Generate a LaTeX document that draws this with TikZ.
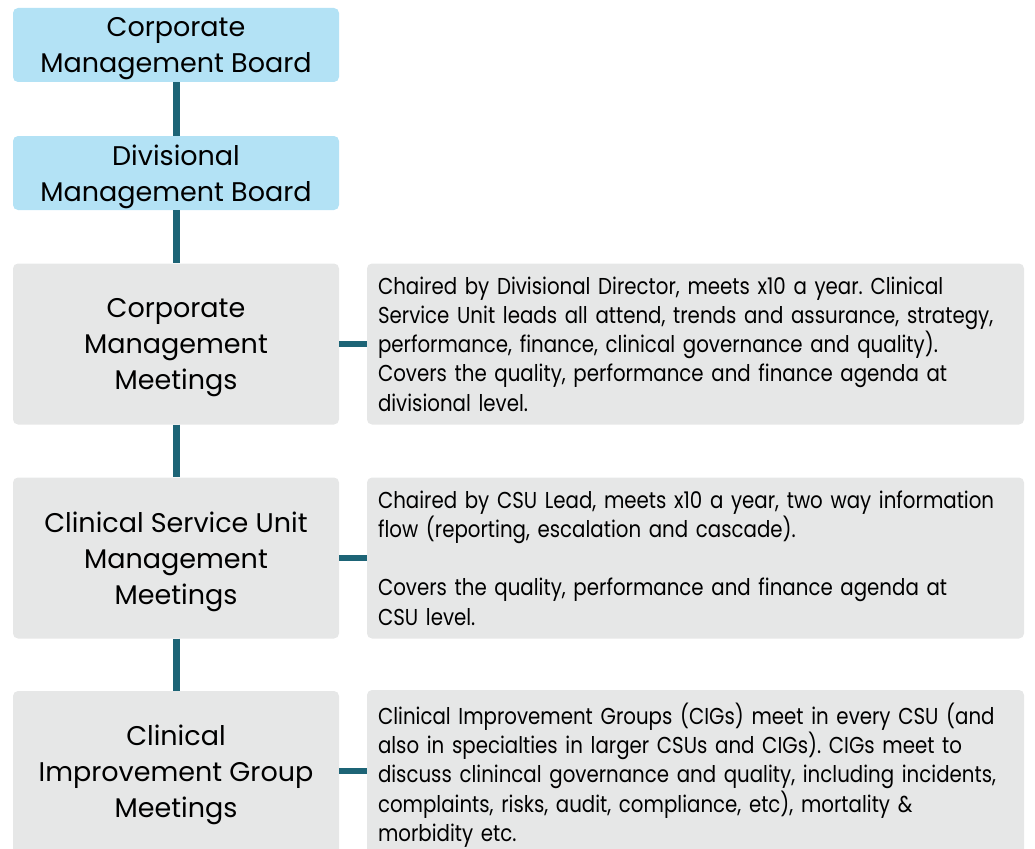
\documentclass[tikz,border=0pt]{standalone}
\usepackage{fontspec}
\setmainfont{Poppins}
\newfontfamily\rfont[FakeStretch=0.86]{Poppins}
\definecolor{boardblue}{HTML}{B3E2F5}
\definecolor{meetgray}{HTML}{E6E7E7}
\definecolor{linkteal}{HTML}{1D6476}
\frenchspacing
\begin{document}
\begin{tikzpicture}[x=1pt,y=-1pt,
  leftbox/.style={rounded corners=5pt, minimum width=326pt, inner sep=0pt},
  lefttext/.style={align=center, font=\fontsize{27}{36}\selectfont, yshift=-4pt},
  board/.style={leftbox, fill=boardblue, minimum height=74pt},
  meeting/.style={leftbox, fill=meetgray, minimum height=161pt},
  notebox/.style={rounded corners=5pt, fill=meetgray, minimum width=657pt, text width=635pt,
    inner xsep=11pt, inner ysep=0pt, align=left, font=\rfont\fontsize{23}{29.3}\selectfont},
  link/.style={draw=linkteal, line width=7pt},
  hlink/.style={draw=linkteal, line width=6pt}]
\useasboundingbox (0,0) rectangle (1035,848);
\clip (0,0) rectangle (1035,848);
\node[board, label={[lefttext]center:{Corporate\\Management Board}}] (cmb) at (176,45) {};
\node[board, label={[lefttext]center:{Divisional\\Management Board}}] (dmb) at (176,173) {};
\node[meeting, label={[lefttext]center:{Corporate\\Management\\Meetings}}] (cmm) at (176,344) {};
\node[meeting, label={[lefttext]center:{Clinical Service Unit\\Management\\Meetings}}] (csu) at (176,558) {};
\node[meeting, minimum height=170pt, label={[lefttext,yshift=5pt]center:{Clinical\\Improvement Group\\Meetings}}] (cig) at (176,776) {};
\node[notebox, minimum height=161pt] (cmmn) at (695.5,344) {Chaired by Divisional Director, meets x10 a year. Clinical\\Service Unit leads all attend, trends and assurance, strategy,\\performance, finance, clinical governance and quality).\\Covers the quality, performance and finance agenda at\\divisional level.};
\node[notebox, minimum height=161pt] (csun) at (695.5,558) {Chaired by CSU Lead, meets x10 a year, two way information\\flow (reporting, escalation and cascade).\\[29.3pt]Covers the quality, performance and finance agenda at\\CSU level.};
\node[notebox, minimum height=170pt] (cign) at (695.5,775) {Clinical Improvement Groups (CIGs) meet in every CSU (and\\also in specialties in larger CSUs and CIGs). CIGs meet to\\discuss clinincal governance and quality, including incidents,\\complaints, risks, audit, compliance, etc), mortality \&\\morbidity etc.};
\draw[link] (cmb.south) -- (dmb.north);
\draw[link] (dmb.south) -- (cmm.north);
\draw[link] (cmm.south) -- (csu.north);
\draw[link] (csu.south) -- (cig.north);
\draw[hlink] (cmm.east) -- (cmmn.west);
\draw[hlink] (csu.east) -- (csun.west);
\draw[hlink] (cig.east |- 0,771) -- (cign.west |- 0,771);
\end{tikzpicture}
\end{document}
